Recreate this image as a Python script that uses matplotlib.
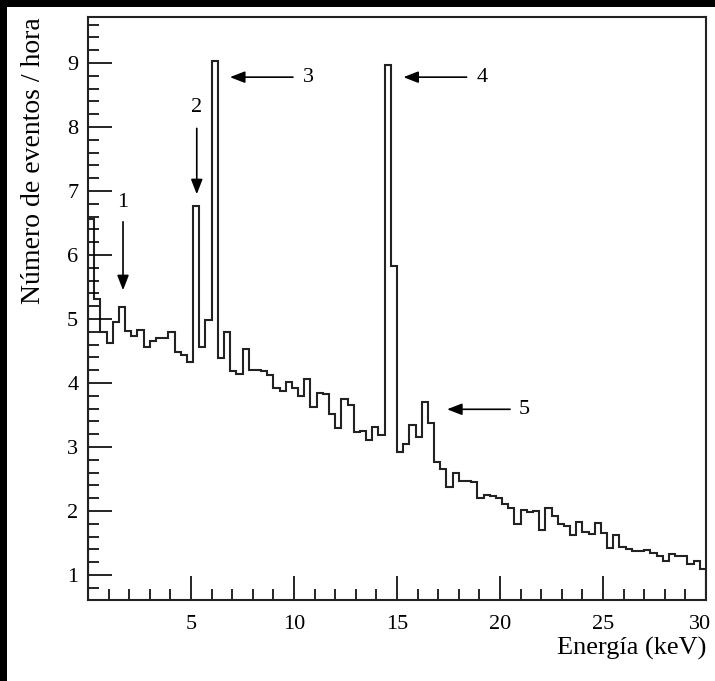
# Espectro de energia - numero de eventos por hora
# Histograma estilo ROOT con picos marcados

import matplotlib
matplotlib.use('Agg')
import matplotlib.pyplot as plt
import matplotlib.transforms as mtransforms
from matplotlib.patches import Rectangle
from matplotlib.ticker import MultipleLocator
import numpy as np

plt.rcParams['font.family'] = ['Liberation Serif', 'DejaVu Serif']

# bins of 0.3 keV from 0 to 30 keV
bin_width = 0.3
n_bins = 100

# events / hour per bin
counts = [
    6.56, 5.31, 4.79, 4.63, 4.95, 5.19, 4.82, 4.73, 4.83, 4.57,
    4.65, 4.71, 4.71, 4.80, 4.48, 4.44, 4.33, 6.77, 4.57, 4.98,
    9.04, 4.39, 4.80, 4.19, 4.14, 4.53, 4.21, 4.21, 4.19, 4.13,
    3.93, 3.88, 4.02, 3.92, 3.79, 4.06, 3.62, 3.85, 3.83, 3.51,
    3.30, 3.75, 3.66, 3.24, 3.25, 3.11, 3.32, 3.19, 8.97, 5.83,
    2.93, 3.05, 3.35, 3.15, 3.71, 3.37, 2.76, 2.65, 2.38, 2.60,
    2.47, 2.47, 2.45, 2.21, 2.25, 2.23, 2.21, 2.11, 2.04, 1.80,
    2.02, 1.99, 2.00, 1.70, 2.04, 1.92, 1.80, 1.76, 1.62, 1.83,
    1.67, 1.64, 1.82, 1.66, 1.42, 1.63, 1.44, 1.40, 1.38, 1.38,
    1.39, 1.34, 1.29, 1.22, 1.33, 1.29, 1.29, 1.18, 1.22, 1.10,
]

x_ticks = [5, 10, 15, 20, 25, 30]
y_ticks = [1, 2, 3, 4, 5, 6, 7, 8, 9]

# peak markers: label, arrow tip (x, y), arrow tail (x, y), label position
peak_labels = ['1', '2', '3', '4', '5']
arrow_tips = [(1.70, 5.45), (5.28, 6.95), (6.89, 8.78), (15.31, 8.78), (17.43, 3.59)]
arrow_tails = [(1.70, 6.52), (5.28, 7.98), (9.95, 8.78), (18.38, 8.78), (20.49, 3.59)]
label_pos = [(1.70, 6.82), (5.28, 8.30), (10.72, 8.78), (19.12, 8.78), (21.20, 3.59)]


def plot_spectrum():
    fig = plt.figure(figsize=(7.15, 6.81), dpi=100)
    fig.patch.set_facecolor('black')
    # white page inside the black scan border
    page = Rectangle((7 / 715, 0), 1 - 7 / 715, 1 - 7 / 681,
                     transform=fig.transFigure, facecolor='white',
                     edgecolor='none', zorder=-10)
    fig.add_artist(page)

    ax = fig.add_axes([88 / 715, 81 / 681, (706 - 88) / 715, (600 - 17) / 681])
    ax.set_zorder(1)
    ax.set_facecolor('white')

    edges = np.arange(n_bins + 1) * bin_width
    ax.stairs(counts, edges, color='#222222', linewidth=1.5)

    ax.set_xlim(0, 30)
    ax.set_ylim(0.61, 9.72)
    ax.set_xticks(x_ticks)
    ax.set_yticks(y_ticks)
    ax.xaxis.set_minor_locator(MultipleLocator(1))
    ax.yaxis.set_minor_locator(MultipleLocator(0.2))
    ax.tick_params(which='both', direction='in', top=False, right=False,
                   width=1.2, labelsize=16, colors='black')
    ax.tick_params(which='major', length=17)
    ax.tick_params(which='minor', length=8)
    ax.tick_params(axis='x', pad=11)
    ax.tick_params(axis='y', pad=7)
    for s in ax.spines.values():
        s.set_linewidth(1.5)
        s.set_color('#222222')

    # keep the last x label ("30") inside the page
    fig.canvas.draw()
    shift = mtransforms.ScaledTranslation(-6 / 100, 0, fig.dpi_scale_trans)
    last = ax.get_xticklabels()[-1]
    last.set_transform(last.get_transform() + shift)

    ax.set_xlabel('Energía (keV)', fontsize=19, loc='right', labelpad=2)
    ax.set_ylabel('Número de eventos / hora', fontsize=20, loc='top', labelpad=15)

    for lab, tip, tail, pos in zip(peak_labels, arrow_tips, arrow_tails, label_pos):
        ax.annotate('', xy=tip, xytext=tail,
                    arrowprops=dict(arrowstyle='-|>,head_length=0.9,head_width=0.35',
                                    color='black', lw=1.2, shrinkA=0, shrinkB=0))
        ax.text(pos[0], pos[1], lab, fontsize=16, ha='center', va='center')

    fig.savefig('out.png', dpi=100, facecolor=fig.get_facecolor())


if __name__ == "__main__":
    plot_spectrum()
